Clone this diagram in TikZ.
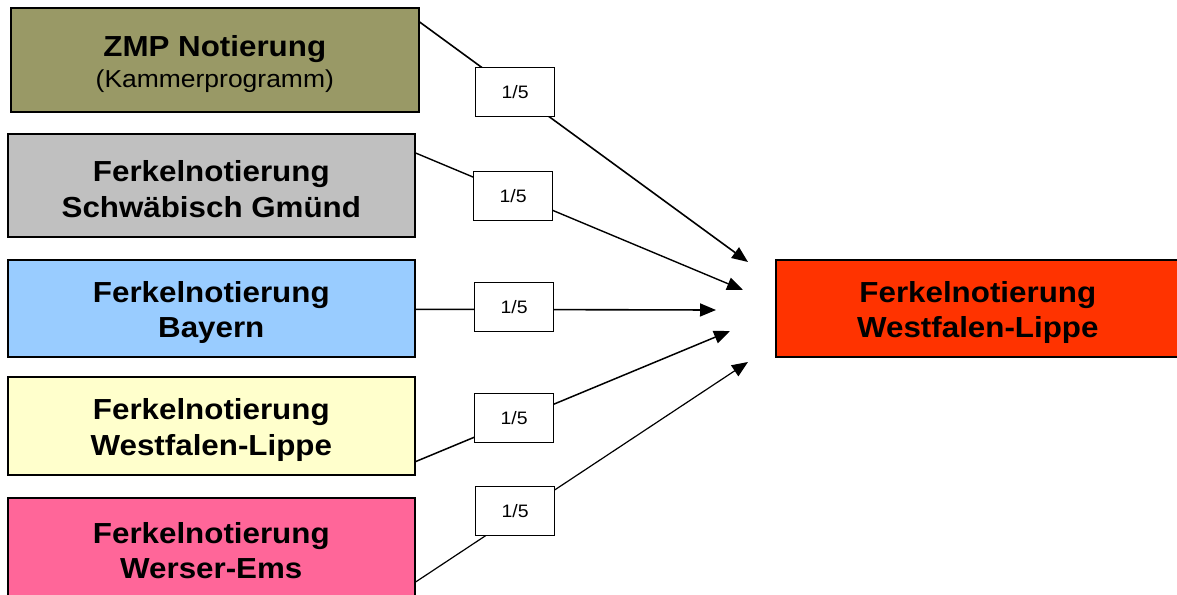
\documentclass[tikz,border=0pt]{standalone}
\usepackage{fontspec}
\setmainfont[FakeStretch=1.08]{Liberation Sans}
\usetikzlibrary{arrows.meta,calc}
\definecolor{zmpcol}{HTML}{999966}
\definecolor{graycol}{HTML}{C0C0C0}
\definecolor{bluecol}{HTML}{99CCFF}
\definecolor{yelcol}{HTML}{FFFFCC}
\definecolor{pinkcol}{HTML}{FF6699}
\definecolor{redcol}{HTML}{FF3300}
\begin{document}
\begin{tikzpicture}[x=1pt,y=-1pt,
  box/.style={draw=black,line width=1.6pt,anchor=north west,inner sep=0pt},
  boxtext/.style={inner sep=0pt,align=center,font=\bfseries\fontsize{29}{35.5}\selectfont},
  lbl/.style={draw=black,line width=1.1pt,fill=white,anchor=north west,minimum width=79pt,
    minimum height=49pt,inner sep=0pt,font=\fontsize{18}{22}\selectfont},
  conn/.style={line width=1.6pt,-{Triangle[length=16pt,width=13pt]}}]
\useasboundingbox (0,0) rectangle (1177,594);
% source boxes
\node[box,fill=zmpcol,minimum width=408pt,minimum height=104pt] (zmp) at (10,7) {};
\node[box,fill=graycol,minimum width=407pt,minimum height=103pt] (sg) at (7,133) {};
\node[box,fill=bluecol,minimum width=407pt,minimum height=97pt] (by) at (7,259) {};
\node[box,fill=yelcol,minimum width=407pt,minimum height=98pt] (wl) at (7,376) {};
\node[box,fill=pinkcol,minimum width=407pt,minimum height=100pt] (we) at (7,497) {};
% target box
\node[box,fill=redcol,minimum width=404pt,minimum height=97pt] (tgt) at (775,259) {};
% box texts
\node[boxtext] (zmpT) at ($(zmp.center)+(0,4)$)
  {ZMP Notierung\\[-5pt]{\mdseries\fontsize{24.5}{30}\selectfont (Kammerprogramm)}};
\node[boxtext] (sgT) at ($(sg.center)+(0,4)$) {Ferkelnotierung\\Schwäbisch Gmünd};
\node[boxtext] (byT) at ($(by.center)+(0,4)$) {Ferkelnotierung\\Bayern};
\node[boxtext] (wlT) at ($(wl.center)+(0,4)$) {Ferkelnotierung\\Westfalen-Lippe};
\node[boxtext] (weT) at ($(we.center)+(0,3)$) {Ferkelnotierung\\Werser-Ems};
\node[boxtext] (tgtT) at ($(tgt.center)+(0,4)$) {Ferkelnotierung\\Westfalen-Lippe};
% arrow tips
\coordinate (t1) at (748,262);
\coordinate (t2) at (743,290);
\coordinate (t3) at (716,310);
\coordinate (t4) at (730,331);
\coordinate (t5) at (748,362);
% connectors
\draw[conn] ($(zmp.north east)+(0,15)$) -- (t1);
\draw[conn,line width=1.4pt] ($(sg.north east)+(0,20)$) -- (t2);
\draw[conn] ($(by.east)+(0,1)$) -- (t3);
\draw[conn,line width=1.5pt] ($(wl.south east)+(0,-14)$) -- (t4);
\draw[conn,line width=1.2pt] ($(we.north east)+(0,85)$) -- (t5);
% weight labels
\node[lbl] (l1) at (475,67) {1/5};
\node[lbl] (l2) at (473,171) {1/5};
\node[lbl] (l3) at (474,282) {1/5};
\node[lbl] (l4) at (474,393) {1/5};
\node[lbl] (l5) at (475,486) {1/5};
\end{tikzpicture}
\end{document}
